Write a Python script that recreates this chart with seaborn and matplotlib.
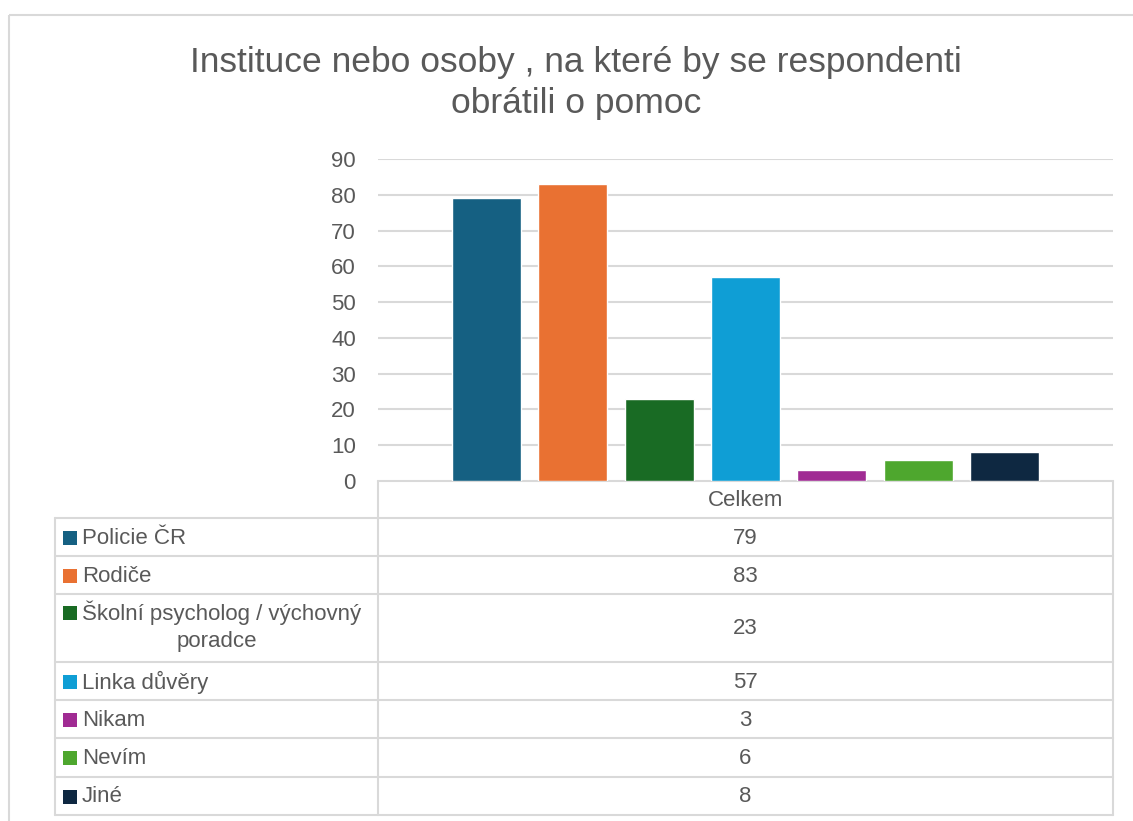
import pandas as pd
import seaborn as sns
import matplotlib.pyplot as plt
from matplotlib.patches import Rectangle

# data
title = "Instituce nebo osoby , na které by se respondenti\nobrátili o pomoc"
category = "Celkem"
series = [
    "Policie ČR",
    "Rodiče",
    "Školní psycholog / výchovný\nporadce",
    "Linka důvěry",
    "Nikam",
    "Nevím",
    "Jiné",
]
values = [79, 83, 23, 57, 3, 6, 8]
colors = ["#156082", "#E97132", "#196B24", "#0F9ED5", "#A02B93", "#4EA72E", "#0E2841"]
yticks = [0, 10, 20, 30, 40, 50, 60, 70, 80, 90]

TEXT = "#595959"
GRID = "#D9D9D9"
W, H = 1133, 821
FS = 16

sns.set_theme(style="white")
plt.rcParams["font.family"] = ["Liberation Sans", "DejaVu Sans"]

fig = plt.figure(figsize=(W / 100, H / 100), dpi=100)

# overlay axes in pixel coords for frame, title and the data table
tab = fig.add_axes([0, 0, 1, 1])
tab.set_xlim(0, W)
tab.set_ylim(H, 0)
tab.axis("off")
tab.add_patch(Rectangle((9, 15), W + 20, H + 20, fill=False, edgecolor=GRID, lw=1.5))
tab.text(576, 83, title, ha="center", va="center", fontsize=25.5, color=TEXT, linespacing=1.32)

# bar chart
ax = fig.add_axes([378 / W, 1 - 481 / H, (1113 - 378) / W, (481 - 159) / H])
df = pd.DataFrame({"category": category, "series": series, "value": values})
sns.barplot(
    data=df,
    x="category",
    y="value",
    hue="series",
    hue_order=series,
    palette=colors,
    width=0.823,
    gap=0.2,
    legend=False,
    ax=ax,
    saturation=1,
)
ax.set_ylim(0, 90)
ax.set_yticks(yticks)
ax.set_xticks([])
ax.set_xlabel("")
ax.set_ylabel("")
ax.grid(axis="y", color=GRID, lw=1.5)
ax.set_axisbelow(True)
for s in ax.spines.values():
    s.set_visible(False)
ax.tick_params(axis="y", length=0, pad=16, labelsize=FS, labelcolor=TEXT)

# data table
rows = [481, 518, 556, 594, 662, 700, 738, 777, 815]
x0, x1, x2 = 55, 378, 1113
lw = 1.5
tab.plot([x1, x2], [rows[0], rows[0]], color=GRID, lw=lw)
for y in rows[1:]:
    tab.plot([x0, x2], [y, y], color=GRID, lw=lw)
tab.plot([x0, x0], [rows[1], rows[-1]], color=GRID, lw=lw)
tab.plot([x1, x1], [rows[0], rows[-1]], color=GRID, lw=lw)
tab.plot([x2, x2], [rows[0], rows[-1]], color=GRID, lw=lw)
tab.text((x1 + x2) / 2, (rows[0] + rows[1]) / 2 + 1, category, ha="center", va="center",
         fontsize=FS, color=TEXT)
for i, (name, val, c) in enumerate(zip(series, values, colors)):
    yc = (rows[i + 1] + rows[i + 2]) / 2 + 1
    tab.text((x1 + x2) / 2, yc, str(val), ha="center", va="center", fontsize=FS, color=TEXT)
    if "\n" in name:
        first, second = name.split("\n")
        ytop = yc - 16
        tab.add_patch(Rectangle((63, ytop - 7), 14, 14, color=c, lw=0))
        tab.text(82, ytop, first, ha="left", va="center", fontsize=FS, color=TEXT)
        tab.text((x0 + x1) / 2, yc + 13, second, ha="center", va="center", fontsize=FS, color=TEXT)
    else:
        tab.add_patch(Rectangle((63, yc - 7), 14, 14, color=c, lw=0))
        tab.text(82, yc, name, ha="left", va="center", fontsize=FS, color=TEXT)

fig.savefig("out.png", dpi=100)
